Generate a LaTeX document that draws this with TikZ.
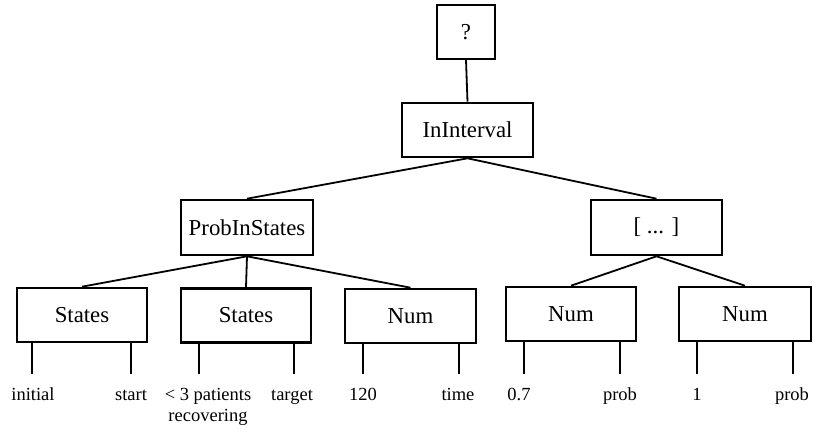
\documentclass[tikz,border=0pt]{standalone}
\usepackage{fontspec}
\setmainfont{Liberation Serif}
\begin{document}
\begin{tikzpicture}[x=1pt,y=1pt,
  box/.style={draw, fill=white, line width=2.6pt, inner sep=0pt,
              minimum height=54pt, font=\fontsize{22.8}{26}\selectfont},
  topbox/.style={box, line width=1.6pt},
  edge/.style={line width=1.8pt},
  leaf/.style={line width=1.4pt},
  lbl/.style={anchor=base, inner sep=0pt, font=\fontsize{18.5}{21}\selectfont}]
\useasboundingbox (0,0) rectangle (814,432);

% tree nodes
\node[topbox, minimum width=58pt, minimum height=54pt] (q) at (466,400) {?};
\node[box, minimum width=131pt] (ii)  at (467.5,302) {InInterval};
\node[box, minimum width=132pt, minimum height=55pt] (pis) at (247,204.5) {ProbInStates};
\node[box, minimum width=131pt, minimum height=55pt] (rng) at (656.5,204.5) {[ ... ]};
\node[box, minimum width=130pt] (s1) at (82,117) {States};
\node[box, minimum width=130pt] (s2) at (246,116.5) {States};
\node[box, minimum width=131pt] (n1) at (410.5,116) {Num};
\node[box, minimum width=130pt] (n2) at (571,118) {Num};
\node[box, minimum width=132pt] (n3) at (745,118) {Num};

% connectors between nodes
\draw[edge] (q.south) -- (ii.north);
\draw[edge] (ii.south) -- (pis.north);
\draw[edge] (ii.south) -- (rng.north);
\draw[edge] (pis.south) -- (s1.north);
\draw[edge] (pis.south) -- (s2.north);
\draw[edge] (pis.south) -- (n1.north);
\draw[edge] (rng.south) -- (n2.north);
\draw[edge] (rng.south) -- (n3.north);

% leaf labels
\node[lbl] (l1)  at (33,32)  {initial};
\node[lbl] (l2)  at (131,32) {start};
\node[lbl] (l3)  at (208,32) {\begin{tabular}[t]{@{}c@{}}< 3 patients\\recovering\end{tabular}};
\node[lbl] (l4)  at (292,32) {target};
\node[lbl] (l5)  at (363,32) {120};
\node[lbl] (l6)  at (458,32) {time};
\node[lbl] (l7)  at (519,32) {0.7};
\node[lbl] (l8)  at (620,32) {prob};
\node[lbl] (l9)  at (697,32) {1};
\node[lbl] (l10) at (792,32) {prob};

% leaf stubs hanging from the lower boxes
\foreach \b/\x in {s1/32, s1/131, s2/199, s2/294, n1/363, n1/459,
                   n2/524, n2/620, n3/697, n3/793}
  \draw[leaf] (\x,0 |- \b.south) -- (\x,58);
\end{tikzpicture}
\end{document}
